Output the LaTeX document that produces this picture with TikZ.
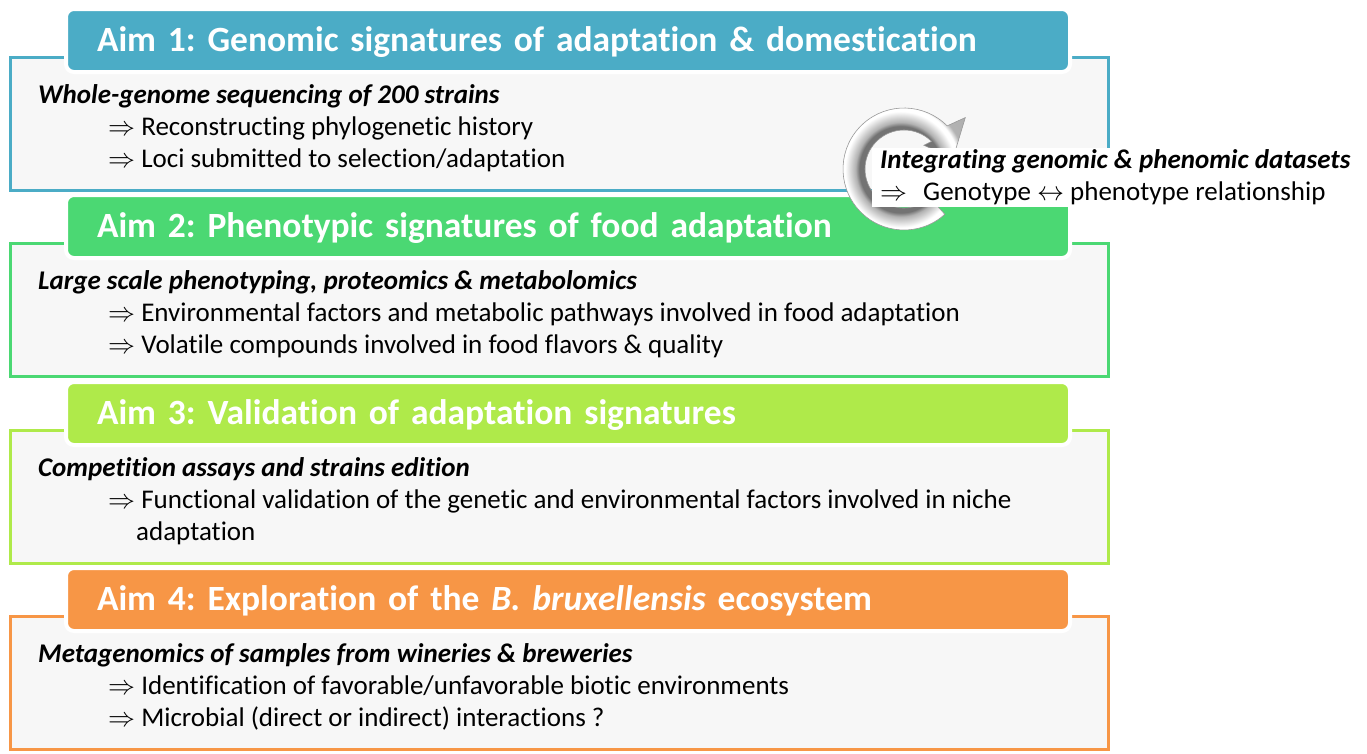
\RequirePackage{fix-cm}
\documentclass[tikz,border=0pt]{standalone}
\usepackage{fontspec}
\setmainfont{Carlito}[Ligatures=NoCommon]
\frenchspacing
\usetikzlibrary{calc}
\definecolor{aimblue}{HTML}{4BACC6}
\definecolor{aimgreen}{HTML}{4BD873}
\definecolor{aimlime}{HTML}{AFEA4A}
\definecolor{aimorange}{HTML}{F79646}
% grey tube look of the circular arrow
\pgfdeclareradialshading{ringshade}{\pgfpointorigin}{%
  color(0bp)=(black!55); color(16bp)=(black!55); color(17.5bp)=(black!30);
  color(21.5bp)=(white); color(23bp)=(white); color(25bp)=(black!30);
  color(50bp)=(black!35)}
\tikzset{%
  % Specifications for style of nodes:
     aimbox/.style = {rectangle, line width=3pt, fill=black!3,
                      minimum width=1098pt, minimum height=133pt},
    aimhead/.style = {rectangle, rounded corners=8pt, draw=white, line width=4pt,
                      minimum width=1004pt, minimum height=63pt,
                      text width=942pt, inner xsep=31pt, align=left,
                      text height=22pt, text depth=0pt, text=white,
                      font=\fontsize{35.5}{42}\selectfont\bfseries},
       lead/.style = {anchor=base west, inner sep=0pt,
                      font=\fontsize{27}{32}\selectfont\bfseries\itshape},
       item/.style = {anchor=base west, inner sep=0pt,
                      font=\fontsize{27}{32}\selectfont},
}

\begin{document}
\begin{tikzpicture}[x=1pt, y=1pt]
  \useasboundingbox (0,0) rectangle (1367,-753);
  % Outline boxes of the four aims
  \node (box1) [aimbox, draw=aimblue]   at (559,-123.5) {};
  \node (box2) [aimbox, draw=aimgreen]  at (559,-309.5) {};
  \node (box3) [aimbox, draw=aimlime]   at (559,-496.5) {};
  \node (box4) [aimbox, draw=aimorange] at (559,-682.5) {};

  % Headers
  \node (head1) [aimhead, fill=aimblue]   at (568,-40.5)  {Aim 1: Genomic signatures of adaptation \& domestication};
  \node (head2) [aimhead, fill=aimgreen]  at (568,-226.5) {Aim 2: Phenotypic signatures of food adaptation};
  \node (head3) [aimhead, fill=aimlime]   at (568,-413.5) {Aim 3: Validation of adaptation signatures};
  \node (head4) [aimhead, fill=aimorange] at (568,-599.5) {Aim 4: Exploration of the \textit{B. bruxellensis} ecosystem};

  % Contents
  \node (lead1)  [lead] at (38,-103)  {Whole-genome sequencing of 200 strains};
  \node (item1a) [item] at (108,-135) {$\Rightarrow$ Reconstructing phylogenetic history};
  \node (item1b) [item] at (108,-167) {$\Rightarrow$ Loci submitted to selection/adaptation};

  \node (lead2)  [lead] at (38,-289)  {Large scale phenotyping, proteomics \& metabolomics};
  \node (item2a) [item] at (108,-321) {$\Rightarrow$ Environmental factors and metabolic pathways involved in food adaptation};
  \node (item2b) [item] at (108,-353) {$\Rightarrow$ Volatile compounds involved in food flavors \& quality};

  \node (lead3)  [lead] at (38,-476)  {Competition assays and strains edition};
  \node (item3a) [item] at (108,-508) {$\Rightarrow$ Functional validation of the genetic and environmental factors involved in niche};
  \node (item3b) [item] at (136,-540) {adaptation};

  \node (lead4)  [lead] at (38,-662)  {Metagenomics of samples from wineries \& breweries};
  \node (item4a) [item] at (108,-694) {$\Rightarrow$ Identification of favorable/unfavorable biotic environments};
  \node (item4b) [item] at (108,-726) {$\Rightarrow$ Microbial (direct or indirect) interactions ?};

  % Circular arrow and integration text
  \coordinate (ringc) at (904,-169);
  \shade[shading=ringshade, draw=black!40, line width=0.6pt]
    ($(ringc)+(-48:61)$) arc[start angle=-48, end angle=-315, radius=61]
    -- ($(ringc)+(40:80)$) -- ($(ringc)+(12:50)$) -- ($(ringc)+(50:31)$)
    -- ($(ringc)+(45:39)$) arc[start angle=45, end angle=312, radius=39] -- cycle;
  \node (intbox) [fill=white, minimum width=483pt, minimum height=59pt,
                  anchor=north west, inner sep=0pt] at (872,-148) {};
  \node (intlead) [lead] at (880,-168) {Integrating genomic \& phenomic datasets};
  \node (intitem) [item] at (880,-200) {$\Rightarrow$\hspace{16pt}Genotype $\leftrightarrow$ phenotype relationship};
\end{tikzpicture}
\end{document}
